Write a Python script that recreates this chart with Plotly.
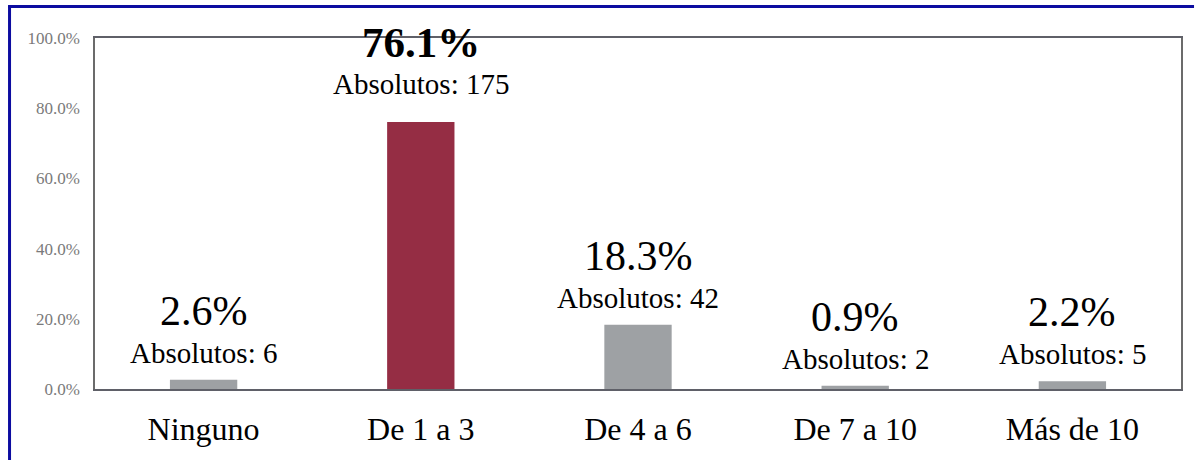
import plotly.graph_objects as go

categories = ["Ninguno", "De 1 a 3", "De 4 a 6", "De 7 a 10", "Más de 10"]
percentages = [2.6, 76.1, 18.3, 0.9, 2.2]
absolutes = [6, 175, 42, 2, 5]
y_tick_values = [0, 20, 40, 60, 80, 100]
y_tick_labels = ["0.0%", "20.0%", "40.0%", "60.0%", "80.0%", "100.0%"]

highlight = percentages.index(max(percentages))
GRAY = "#9ea1a4"
RED = "#952d44"
FONT = "Liberation Serif"

colors = [RED if i == highlight else GRAY for i in range(len(categories))]

fig = go.Figure()
fig.add_trace(go.Bar(
    x=categories, y=percentages, marker=dict(color=colors, line=dict(width=0)),
    width=0.31, hoverinfo="skip",
))

annotations = []
for i, (c, p, a) in enumerate(zip(categories, percentages, absolutes)):
    is_hi = i == highlight
    annotations.append(dict(
        x=c, y=p, xref="x", yref="y", yanchor="bottom", showarrow=False,
        text=f"Absolutos: {a}", font=dict(family=FONT, size=29, color="#000"),
        yshift=20 if is_hi else 9,
    ))
    annotations.append(dict(
        x=c, y=p, xref="x", yref="y", yanchor="bottom", showarrow=False,
        text=(f"<b>{p:.1f}%</b>" if is_hi else f"{p:.1f}%"),
        font=dict(family=FONT, size=43 if is_hi else 42, color="#000"),
        yshift=54 if is_hi else 44,
    ))

shapes = [
    dict(type="line", xref="paper", yref="paper", x0=-0.0787, x1=-0.0787, y0=-0.21, y1=1.093,
         line=dict(color="#0c0ca0", width=3)),
    dict(type="line", xref="paper", yref="paper", x0=-0.08, x1=1.012, y0=1.0897, y1=1.0897,
         line=dict(color="#0c0ca0", width=3)),
]

fig.update_layout(
    width=1199, height=460,
    margin=dict(l=95, r=18, t=38, b=71),
    paper_bgcolor="white", plot_bgcolor="white",
    showlegend=False,
    annotations=annotations,
    shapes=shapes,
)
fig.update_xaxes(
    showline=True, linecolor="#5f6068", linewidth=1.5, mirror=True,
    ticks="", tickfont=dict(family=FONT, size=32, color="#000"),
    showgrid=False, ticklabelstandoff=11,
)
fig.update_yaxes(
    range=[0, 100], tickvals=y_tick_values, ticktext=y_tick_labels,
    showline=True, linecolor="#6b6b6b", linewidth=1.5, mirror=True,
    showgrid=False, zeroline=False, ticks="", ticklabelstandoff=10,
    tickfont=dict(family=FONT, size=17, color="#7a7a7a"),
)

fig.write_html(
    "out.html",
    config={"displayModeBar": False},
    post_script="document.body.style.margin='0';document.body.style.padding='0';",
)
